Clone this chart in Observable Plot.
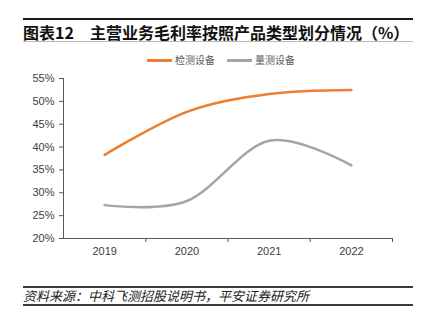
<!DOCTYPE html>
<html>
<head>
<meta charset="utf-8">
<script src="https://cdn.jsdelivr.net/npm/d3@7"></script>
<script src="https://cdn.jsdelivr.net/npm/@observablehq/plot@0.6"></script>
<style>
  html, body { margin: 0; padding: 0; background: #fff; }
  body { width: 427px; height: 321px; position: relative; overflow: hidden;
         font-family: "Liberation Sans", "Noto Sans CJK SC", sans-serif; }
  .abs { position: absolute; }
  #topline { left: 23px; top: 18px; width: 390px; height: 2px; background: #1a1a1a; }
  #title { left: 23px; top: 22px; font-family: "Noto Sans CJK SC", sans-serif; font-weight: bold;
           font-size: 16px; line-height: 20px; color: #111; white-space: nowrap; }
  #subline { left: 23px; top: 41px; width: 390px; height: 1px; background: #b8b8b8; }
  #legend { left: 0; top: 53px; width: 427px; font-family: "Noto Sans CJK SC", sans-serif;
            font-size: 10px; line-height: 14px; color: #595959; }
  .item { position: absolute; top: 0; white-space: nowrap; }
  .sw { position: absolute; top: 6px; width: 25px; height: 2.5px; }
  #chart { left: 0; top: 70px; }
  #cap1 { left: 23px; top: 286px; width: 390px; height: 2px; background: #3a3a3a; }
  #cap2 { left: 23px; top: 304px; width: 390px; height: 2px; background: #3a3a3a; }
  #caption { left: 23px; top: 287.5px; font-family: "Noto Sans CJK SC", sans-serif; font-style: italic;
             font-size: 13px; line-height: 16px; color: #222; white-space: nowrap; }
</style>
</head>
<body>
<div id="topline" class="abs"></div>
<div id="title" class="abs"></div>
<div id="subline" class="abs"></div>
<div id="legend" class="abs"></div>
<div id="chart" class="abs"></div>
<div id="cap1" class="abs"></div>
<div id="caption" class="abs"></div>
<div id="cap2" class="abs"></div>
<script>
const titleText = "图表12\u3000主营业务毛利率按照产品类型划分情况（%）";
const captionText = "资料来源：中科飞测招股说明书，平安证券研究所";
const years = [2019, 2020, 2021, 2022];
const seriesNames = ["检测设备", "量测设备"];
const inspection = [38.3, 47.7, 51.6, 52.5];   // 检测设备
const metrology = [27.3, 28.2, 41.4, 36.0];    // 量测设备
const yTicks = [20, 25, 30, 35, 40, 45, 50, 55];
const colors = ["#ED7D31", "#A5A5A5"];

document.getElementById("title").textContent = titleText;
document.getElementById("caption").textContent = captionText;

// legend
const legend = document.getElementById("legend");
const legendPos = [147, 227];
seriesNames.forEach((name, i) => {
  const it = document.createElement("div");
  it.className = "item";
  it.style.left = legendPos[i] + "px";
  const sw = document.createElement("div");
  sw.className = "sw";
  sw.style.left = "0px";
  sw.style.background = colors[i];
  const tx = document.createElement("span");
  tx.style.marginLeft = "28px";
  tx.textContent = name;
  it.appendChild(sw);
  it.appendChild(tx);
  legend.appendChild(it);
});

const rows = [
  ...years.map((y, i) => ({year: y, value: inspection[i], series: seriesNames[0]})),
  ...years.map((y, i) => ({year: y, value: metrology[i], series: seriesNames[1]}))
];
const xMin = years[0] - 0.5, xMax = years[years.length - 1] + 0.5;
const boundaries = years.map(y => y + 0.5);

const chart = Plot.plot({
  width: 427,
  height: 195,
  marginTop: 8,
  marginBottom: 27,
  marginLeft: 63,
  marginRight: 35,
  style: {fontFamily: "Liberation Sans, Arial, sans-serif", color: "#404040", background: "transparent"},
  x: {domain: [xMin, xMax]},
  y: {domain: [yTicks[0], yTicks[yTicks.length - 1]]},
  color: {domain: seriesNames, range: colors},
  marks: [
    Plot.axisY({ticks: yTicks, tickFormat: d => d + "%", tickSize: 4, tickPadding: 5, fontSize: 11, label: null, stroke: "#595959"}),
    Plot.axisX({ticks: boundaries, tickFormat: () => "", tickSize: 4, label: null, stroke: "#595959"}),
    Plot.axisX({ticks: years, tickFormat: d => String(d), tickSize: 0, tickPadding: 9, fontSize: 11, label: null}),
    Plot.ruleX([xMin], {stroke: "#595959"}),
    Plot.ruleY([yTicks[0]], {stroke: "#595959"}),
    Plot.line(rows, {x: "year", y: "value", z: "series", stroke: "series", curve: "cardinal", strokeWidth: 2.5})
  ]
});
document.getElementById("chart").appendChild(chart);
</script>
</body>
</html>
